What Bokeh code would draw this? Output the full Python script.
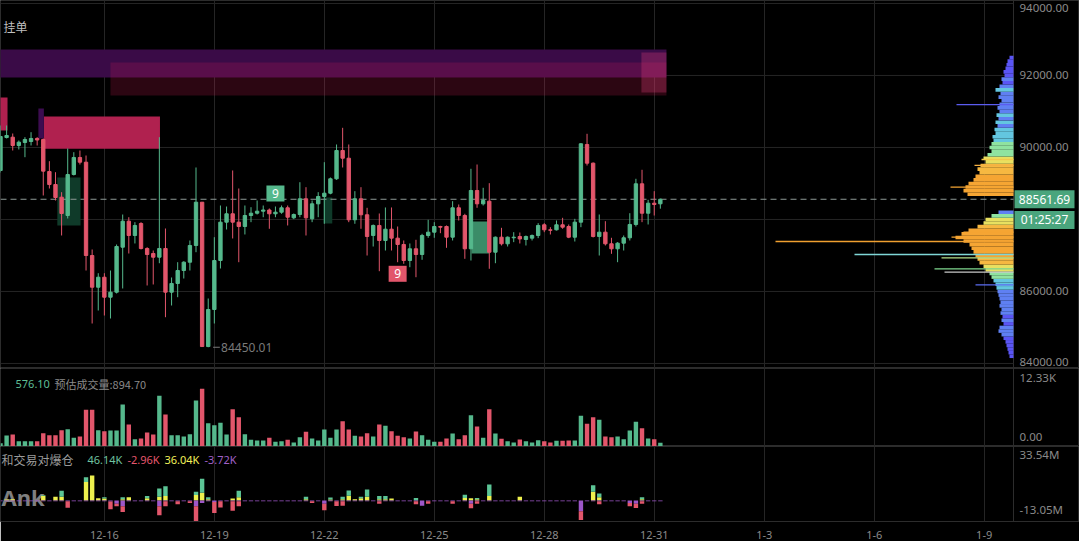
import numpy as np
from bokeh.plotting import figure
from bokeh.models import Range1d, FixedTicker, ColumnDataSource, Grid
from bokeh.transform import linear_cmap
from bokeh.layouts import column
from bokeh.embed import file_html
from bokeh.resources import INLINE
from bokeh.core.properties import value

# ---------------- data (4h candles) ----------------
open_ = [89360, 90277, 90286, 90055, 90138, 90166, 90250, 90222, 89333, 88971,
         88619, 88110, 89249, 89722, 89591, 86999, 86118, 86396, 85841, 85980,
         87230, 87952, 87555, 87888, 87194, 87055, 86952, 87194, 85980, 86222,
         86582, 86813, 87277, 88480, 84470, 85499, 86860, 87925, 88158, 87925,
         87805, 88110, 88174, 88230, 88263, 88158, 88202, 88324, 88046, 88138,
         88574, 88018, 88435, 88638, 88730, 89130, 89916, 89702, 87991, 88574,
         88130, 87555, 87833, 87416, 87730, 87481, 87305, 86860, 87185, 87027,
         87555, 87647, 87805, 87805, 87508, 88324, 88110, 87185, 88805, 88435,
         88508, 87091, 87508, 87324, 87491, 87527, 87444, 87481, 87555, 87852,
         87713, 87713, 87852, 87805, 87508, 87925, 90083, 89564, 87527, 87647,
         87324, 87185, 87342, 87491, 87861, 88991, 88174, 88452, 88435]
high = [90611, 90611, 90388, 90194, 90286, 90425, 90286, 90250, 89619, 89313,
        88758, 89972, 89869, 89916, 89777, 87166, 86507, 86507, 86582, 87305,
        88138, 88063, 87925, 87925, 87230, 87138, 90286, 87749, 86388, 86813,
        86841, 87416, 89444, 88480, 85805, 87508, 88388, 88360, 89361, 88860,
        88388, 88341, 88527, 88388, 88305, 88360, 88388, 88388, 88166, 89035,
        88897, 88527, 88758, 89591, 89166, 90083, 90546, 90083, 88786, 88897,
        88324, 87861, 88166, 88333, 88333, 87805, 87416, 87333, 87435, 87602,
        87991, 87925, 87824, 87833, 88508, 88416, 88158, 89408, 89527, 88880,
        89008, 87527, 87768, 87527, 87647, 87638, 87555, 87583, 87897, 87897,
        87786, 87972, 88046, 87861, 88018, 90119, 90380, 89583, 88138, 87952,
        87491, 87370, 87555, 88174, 89130, 89380, 88546, 88786, 88580]
low = [89305, 90250, 89916, 89944, 89730, 90055, 90055, 88666, 88860, 88527,
       87555, 88027, 89222, 89527, 86582, 85110, 85471, 85332, 85249, 85944,
       86083, 87055, 87333, 87166, 86166, 86194, 86785, 85285, 85610, 85841,
       86360, 86582, 87091, 84460, 84450.01, 85110, 86638, 87721, 87472, 86813,
       87583, 87925, 88138, 88063, 87741, 88063, 88158, 87833, 88010, 88063,
       87555, 87925, 88063, 87880, 88700, 89100, 89444, 87925, 87880, 87741,
       86999, 87249, 86563, 87138, 87138, 86813, 86768, 86674, 86396, 86880,
       87491, 87491, 87619, 87213, 87416, 87971, 86907, 86860, 88324, 88388,
       86630, 86785, 87277, 87249, 87370, 87333, 87277, 87416, 87481, 87647,
       87583, 87694, 87741, 87481, 87388, 87786, 89499, 87500, 86999, 87277,
       87046, 86813, 87138, 87416, 87805, 87925, 87861, 88110, 88300]
close = [90305, 90333, 90055, 90147, 90222, 90250, 90208, 89343, 88971, 88610,
         88166, 89249, 89722, 89591, 86999, 86118, 86396, 85841, 85980, 87249,
         87952, 87555, 87833, 87194, 87027, 86952, 87194, 85980, 86222, 86582,
         86813, 87277, 88480, 84470, 85499, 86860, 87925, 88158, 87925, 87805,
         88110, 88174, 88230, 88263, 88158, 88202, 88324, 88063, 88138, 88574,
         88046, 88435, 88638, 88730, 89130, 89916, 89702, 87991, 88574, 88130,
         87527, 87833, 87416, 87730, 87481, 87305, 86860, 87185, 87027, 87555,
         87647, 87805, 87786, 87508, 88324, 88110, 87185, 88805, 88435, 88527,
         87091, 87508, 87324, 87508, 87508, 87458, 87527, 87555, 87833, 87713,
         87700, 87852, 87786, 87508, 87925, 90102, 89564, 87527, 87647, 87324,
         87185, 87342, 87491, 87861, 88991, 88174, 88452, 88416, 88561.69]
volume = [520, 1740, 1900, 840, 840, 840, 840, 2100, 1790, 1790,
          2580, 2730, 1370, 1580, 5800, 5800, 2580, 2420, 2530, 2530,
          6640, 3480, 1150, 1260, 2210, 1900, 8010, 5060, 1790, 1790,
          1580, 1940, 7270, 9120, 3680, 3370, 3740, 1900, 5890, 4630,
          1940, 1060, 950, 950, 1370, 740, 840, 1060, 630, 1470,
          2320, 1260, 950, 2690, 1370, 2690, 4000, 2690, 1690, 1580,
          2100, 1580, 3480, 3270, 2420, 1690, 1470, 1260, 2370, 1790,
          1060, 740, 740, 1260, 2050, 1150, 1790, 4950, 3160, 1370,
          5890, 2050, 1220, 840, 630, 1110, 840, 630, 1000, 840,
          630, 900, 900, 950, 950, 4850, 3590, 4630, 4220, 1580,
          1470, 1580, 1150, 2530, 3900, 2890, 1260, 1150, 576.10]
# liquidations (M): long-side green on yellow, short-side red under purple
liq_green = [0] * 109
liq_yellow = [0] * 109
liq_red = [0] * 109
liq_purple = [-0.4] * 109
for i, v in {7: 0.5, 10: 3.6, 14: 3.0, 17: 0.8, 20: 1.2, 24: 1.4, 26: 5.0, 27: 6.0,
             32: 2.0, 33: 8.7, 34: 1.2, 39: 4.0, 50: 1.6, 54: 1.2, 56: 1.6, 57: 3.2,
             59: 1.0, 60: 4.4, 62: 2.0, 63: 2.0, 68: 1.6, 76: 2.0, 78: 0.8, 80: 7.1,
             97: 4.1, 98: 2.4, 105: 1.2}.items():
    liq_green[i] = v
for i, v in {1: 0.6, 2: 0.8, 7: 2.8, 9: 2.4, 10: 2.4, 14: 11.5, 15: 15.5, 16: 1.4,
             17: 1.2, 20: 0.8, 21: 2.0, 24: 1.4, 26: 2.4, 27: 2.8, 32: 3.4, 33: 4.8,
             34: 0.8, 38: 1.2, 39: 2.0, 50: 0.8, 54: 0.6, 56: 0.8, 57: 3.0, 58: 0.8,
             59: 1.4, 60: 2.4, 62: 0.8, 63: 0.8, 64: 1.2, 76: 1.6, 77: 1.4, 78: 0.8,
             80: 2.8, 85: 2.4, 97: 5.4, 98: 2.0, 105: 0.8}.items():
    liq_yellow[i] = v
for i, v in {11: -4.0, 18: -4.8, 19: -1.6, 20: -3.6, 26: -5.6, 27: -3.2, 29: -2.0,
             31: -1.2, 32: -9.1, 35: -6.7, 36: -4.0, 38: -6.0, 39: -3.2, 51: -1.2,
             53: -4.0, 55: -3.0, 56: -2.8, 62: -1.6, 68: -2.0, 70: -1.6, 74: -1.6,
             77: -2.8, 78: -1.6, 95: -5.4, 98: -2.0, 103: -2.0, 104: -2.6, 105: -1.6}.items():
    liq_red[i] = v
for i, v in {11: -0.5, 18: -0.6, 19: -2.0, 20: -3.6, 26: -3.6, 32: -3.6, 33: -1.6,
             35: -1.0, 53: -2.0, 69: -3.2, 77: -2.0, 95: -6.7, 103: -1.6, 104: -2.0}.items():
    liq_purple[i] = v

date_ticks = [-1, 17, 35, 53, 71, 89, 107, 125, 143, 161]
date_labels = ["12-13", "12-16", "12-19", "12-22", "12-25", "12-28", "12-31", "1-3", "1-6", "1-9"]
price_ticks = [84000, 86000, 88000, 90000, 92000, 94000]
price_now = 88561.69
countdown = "01:25:27"
low_idx, low_price = 34, 84450.01
td_up_idx, td_dn_idx, td_text = 45, 65, "9"
vol_now, vol_est = 576.10, 894.70
vol_max = 12330
liq_max, liq_min = 33.54, -13.05
liq_legend = ["46.14K", "-2.96K", "36.04K", "-3.72K"]

# volume profile (price level -> relative volume)
vp_price = list(range(84200, 92600, 100))
vp_len = [4, 5, 6, 7, 8, 10, 12, 15, 14, 10, 12, 11, 13, 12, 14, 13, 14, 15, 16, 17,
          18, 20, 22, 24, 28, 30, 34, 36, 38, 40, 42, 44, 50, 58, 52, 45, 36, 30, 28, 22,
          15, 0, 0, 0, 0, 46, 50, 48, 45, 40, 38, 34, 36, 33, 28, 30, 26, 22, 24, 22,
          20, 21, 18, 19, 16, 18, 15, 17, 14, 16, 14, 12, 15, 13, 18, 14, 11, 12, 9, 10,
          8, 7, 6, 4]
spike_price = [91190, 89666, 89500, 88897, 88786, 87647, 87508, 87388, 87027, 86935, 86630, 86535, 86185]
spike_len = [57, 32, 39, 63, 48, 50, 62, 238, 159, 72, 79, 69, 38]

# order-book / zone boxes (candle index, price)
ob_left = [-1, 18.0, 104.9]
ob_right = [109.0, 109.0, 109.0]
ob_bottom = [91944, 91444, 91527]
ob_top = [92722, 92361, 92639]
wall_left = [-1, 7.1, 6.2]
wall_right = [1.15, 26.1, 7.1]
wall_bottom = [90472, 89963, 90250]
wall_top = [91388, 90861, 91083]
zone_left = [9.3, 52.9, 77.1]
zone_right = [13.1, 54.3, 80.0]
zone_bottom = [87833, 87888, 87055]
zone_top = [89166, 88610, 87944]

# ---------------- styling / layout ----------------
W = 1079
H1, H2, H3 = 368, 78, 95
RB = 66                      # width of the price-scale strip
FW = W - RB
X0, X1 = 0.0, 165.8
ppx = (X1 - X0) / FW
X2 = X1 + RB * ppx
Y0, Y1 = 83860, 94083
ppy = (Y1 - Y0) / H1
BG = "#000000"
GRID = "#252525"
OUTL = "#2c2c2c"
UP, DN = "#55b88c", "#e2566b"
BADGE = "#4aa57d"
AXC = "#8a8a8a"
FN = "Noto Sans"
FC = "Noto Sans CJK SC"
LX = X1 + 6 * ppx            # x of scale labels


def px(v):
    return X0 + v * ppx


def make(h, yr, xaxis=False):
    p = figure(width=W, height=h, x_range=Range1d(X0, X2), y_range=yr, output_backend="svg",
               toolbar_location=None, tools="", y_axis_location=None,
               min_border_left=0, min_border_right=0, min_border_top=0, min_border_bottom=0,
               background_fill_color=BG, border_fill_color=BG, outline_line_color=OUTL)
    p.xaxis.ticker = FixedTicker(ticks=date_ticks)
    p.xaxis.major_label_overrides = dict(zip(date_ticks, date_labels))
    p.xaxis.visible = xaxis
    p.xaxis.axis_line_color = None
    p.xaxis.major_tick_line_color = None
    p.xaxis.minor_tick_line_color = None
    p.xaxis.major_label_text_color = AXC
    p.xaxis.major_label_text_font = FN
    p.xaxis.major_label_text_font_size = "11px"
    p.xaxis.major_label_standoff = 3
    for g in p.select(type=Grid):
        if g.dimension == 1:
            g.grid_line_color = None
            g.visible = False
        else:
            g.grid_line_color = GRID
    # separator between plot area and scale strip
    p.segment(x0=[X1], y0=[yr.start], x1=[X1], y1=[yr.end], line_color=OUTL, line_width=1)
    return p


def scale_labels(p, ys, texts):
    p.text(x=[LX] * len(ys), y=ys, text=texts, text_color=AXC, text_baseline="middle",
           text_font=value(FN), text_font_size="11.5px")


n = len(close)
idx = list(range(n))
col = [UP if c >= o else DN for o, c in zip(open_, close)]
src = ColumnDataSource(dict(x=idx, o=open_, h=high, l=low, c=close,
                            top=[max(o, c) for o, c in zip(open_, close)],
                            bot=[min(o, c) for o, c in zip(open_, close)],
                            col=col, vol=volume))

# ---------------- main price panel ----------------
p1 = make(H1, Range1d(Y0, Y1))
p1.segment(x0=[X0] * len(price_ticks), y0=price_ticks, x1=[X1] * len(price_ticks), y1=price_ticks,
           line_color=GRID, line_width=1)

p1.quad(left=ob_left[:1], right=ob_right[:1], bottom=ob_bottom[:1], top=ob_top[:1],
        fill_color="#3a0b47", line_color=None)
p1.quad(left=ob_left[1:2], right=ob_right[1:2], bottom=ob_bottom[1:2], top=ob_top[1:2],
        fill_color="#d21d56", fill_alpha=0.21, line_color=None)
p1.quad(left=ob_left[2:], right=ob_right[2:], bottom=ob_bottom[2:], top=ob_top[2:],
        fill_color="#e0407a", fill_alpha=0.3, line_color=None)
p1.quad(left=wall_left[:2], right=wall_right[:2], bottom=wall_bottom[:2], top=wall_top[:2],
        fill_color="#b0214f", line_color=None)
p1.quad(left=wall_left[2:], right=wall_right[2:], bottom=wall_bottom[2:], top=wall_top[2:],
        fill_color="#3c0c50", line_color=None)
p1.quad(left=zone_left[:2], right=zone_right[:2], bottom=zone_bottom[:2], top=zone_top[:2],
        fill_color="#0f3a29", line_color=None)
p1.quad(left=zone_left[2:], right=zone_right[2:], bottom=zone_bottom[2:], top=zone_top[2:],
        fill_color="#3b8c68", line_color=None)

# volume profile anchored at the price-scale edge
p1.extra_x_ranges = {"vp": Range1d(FW, FW - W)}
vp_src = ColumnDataSource(dict(y=vp_price, v=vp_len))
palette = ["#5a55f5", "#5f80f2", "#63c6e0", "#8fe3a0", "#e8e060", "#f6b841", "#f5a533"]
p1.hbar(y="y", left="v", right=0, height=100, source=vp_src, x_range_name="vp",
        fill_color=linear_cmap("v", palette, 6, 42), line_color=None)
spike_colors = ["#5b5cf0", "#f2c94c", "#f5b042", "#f5a533", "#f5a533", "#f5a533", "#f5a533",
                "#f0a030", "#7fd6d6", "#b5e08a", "#7fd88f", "#c8c8c8", "#5b6cf0"]
p1.hbar(y=spike_price, left=spike_len, right=0, height=35, x_range_name="vp",
        fill_color=spike_colors, line_color=None)

p1.segment(x0=[X0], y0=[price_now], x1=[X1], y1=[price_now], line_color="#8f9a97",
           line_dash="6 4", line_width=1)

p1.segment(x0="x", y0="l", x1="x", y1="h", line_color="col", line_width=1, source=src)
p1.vbar(x="x", top="top", bottom="bot", width=0.55, fill_color="col", line_color="col",
        line_width=1, source=src)

# TD sequential badges
up_y = high[td_up_idx] + 13 * ppy
dn_y = low[td_dn_idx] - 11.6 * ppy
p1.rect(x=[td_up_idx], y=[up_y], width=18 * ppx, height=16 * ppy, fill_color=UP, line_color=None)
p1.rect(x=[td_dn_idx], y=[dn_y], width=18 * ppx, height=16 * ppy, fill_color=DN, line_color=None)
p1.text(x=[td_up_idx, td_dn_idx], y=[up_y, dn_y], text=[td_text, td_text], text_color="white",
        text_align="center", text_baseline="middle", text_font=value(FN), text_font_size="12px")

# low marker
p1.segment(x0=[low_idx + 0.8], y0=[low_price], x1=[low_idx + 1.9], y1=[low_price],
           line_color="#7a7a7a", line_width=1)
p1.text(x=[low_idx + 2.1], y=[low_price], text=[f"{low_price:.2f}"], text_color="#7a7a7a",
        text_baseline="middle", text_font=value(FN), text_font_size="12px")

p1.text(x=[px(3)], y=[Y1 - 26 * ppy], text=["挂单"], text_color="#c0c0c0", text_baseline="middle",
        text_font=value(FC), text_font_size="12px")

# price scale labels
scale_labels(p1, [min(max(t, Y0 + 7 * ppy), Y1 - 7 * ppy) for t in price_ticks],
             [f"{t:.2f}" for t in price_ticks])

# last price + countdown badges
bx = X1 + 31 * ppx
by = [price_now, price_now - 20.7 * ppy]
p1.rect(x=[bx, bx], y=by, width=60 * ppx, height=18 * ppy, fill_color=BADGE, line_color=None)
p1.text(x=[bx, bx], y=by, text=[f"{price_now:.2f}", countdown], text_color="white",
        text_align="center", text_baseline="middle", text_font=value(FN), text_font_size="12px")

# ---------------- volume panel ----------------
p2 = make(H2, Range1d(0, vol_max))
vpp = vol_max / H2
p2.vbar(x="x", top="vol", bottom=0, width=0.72, fill_color="col", line_color=None, source=src)
scale_labels(p2, [vol_max - 9 * vpp, 10 * vpp], [f"{vol_max / 1000:.2f}K", "0.00"])
vy = vol_max - 15 * vpp
p2.text(x=[px(15)], y=[vy], text=[f"{vol_now:.2f}"], text_color="#5fbf95", text_baseline="middle",
        text_font=value(FN), text_font_size="11px")
p2.text(x=[px(54)], y=[vy], text=[f"预估成交量:{vol_est:.2f}"], text_color="#8a8a8a",
        text_baseline="middle", text_font=value(FC), text_font_size="11px")

# ---------------- liquidation panel ----------------
p3 = make(H3, Range1d(liq_min, liq_max), xaxis=True)
lpp = (liq_max - liq_min) / 78
ly = np.array(liq_yellow)
lg = ly + np.array(liq_green)
lp = np.array(liq_purple)
lr = lp + np.array(liq_red)
p3.text(x=[px(1)], y=[4 * lpp], text=["Ank"], text_color="#ffffff", text_alpha=0.5,
        text_align="left", text_baseline="middle", text_font=value(FN),
        text_font_size="22px", text_font_style="bold")
p3.vbar(x=idx, bottom=0, top=ly, width=0.72, fill_color="#eef04e", line_color=None)
p3.vbar(x=idx, bottom=ly, top=lg, width=0.72, fill_color="#5cc596", line_color=None)
p3.vbar(x=idx, bottom=lp, top=0, width=0.72, fill_color="#9d56c8", line_color=None)
p3.vbar(x=idx, bottom=lr, top=lp, width=0.72, fill_color="#e2566b", line_color=None)
scale_labels(p3, [liq_max - 8 * lpp, liq_min + 12 * lpp], [f"{liq_max:.2f}M", f"{liq_min:.2f}M"])
leg_y = liq_max - 14 * lpp
p3.text(x=[px(1)], y=[leg_y], text=["和交易对爆仓"], text_color="#9a9a9a", text_baseline="middle",
        text_font=value(FC), text_font_size="12px")
p3.text(x=[px(87), px(127), px(164), px(204)], y=[leg_y] * 4, text=liq_legend,
        text_color=["#6fc3a0", "#e5566d", "#f2f25a", "#a060c8"], text_baseline="middle",
        text_font=value(FN), text_font_size="11px")

layout = column(p1, p2, p3, spacing=0)
open("out.html", "w").write(file_html(layout, INLINE))
